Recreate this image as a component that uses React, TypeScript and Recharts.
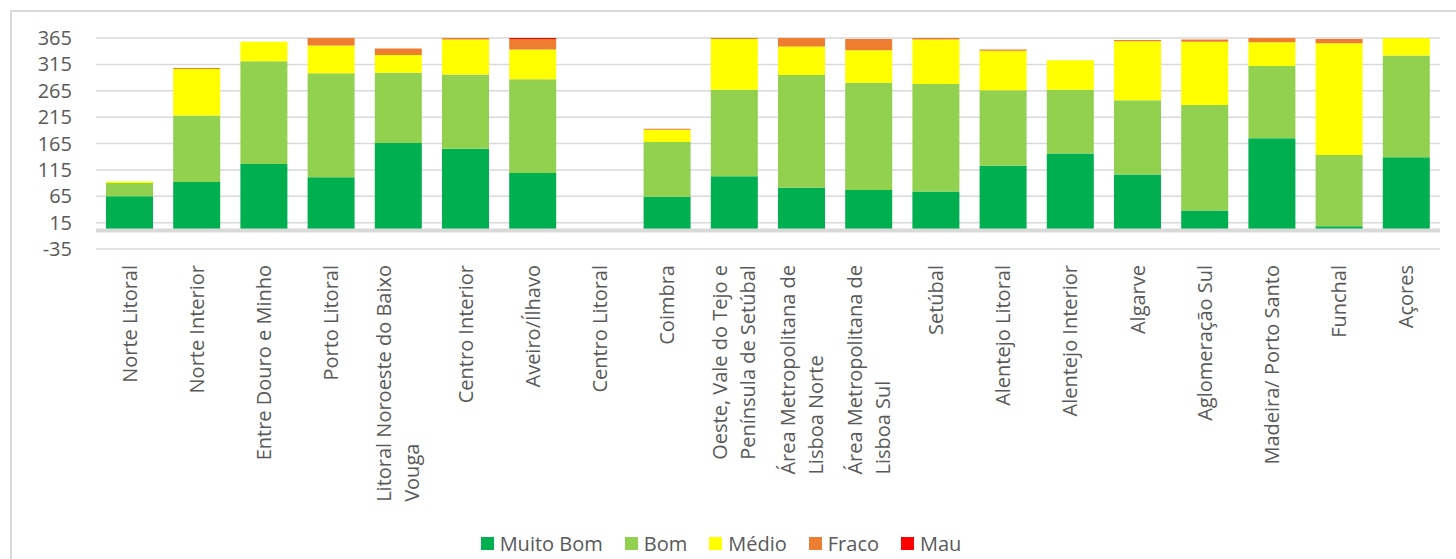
import { BarChart, Bar, XAxis, YAxis, CartesianGrid, Legend, ReferenceLine } from "recharts";

// Regions (line breaks mark where a long label wraps)
const REGIONS = [
  "Norte Litoral",
  "Norte Interior",
  "Entre Douro e Minho",
  "Porto Litoral",
  "Litoral Noroeste do Baixo\nVouga",
  "Centro Interior",
  "Aveiro/Ílhavo",
  "Centro Litoral",
  "Coimbra",
  "Oeste, Vale do Tejo e\nPenínsula de Setúbal",
  "Área Metropolitana de\nLisboa Norte",
  "Área Metropolitana de\nLisboa Sul",
  "Setúbal",
  "Alentejo Litoral",
  "Alentejo Interior",
  "Algarve",
  "Aglomeração Sul",
  "Madeira/ Porto Santo",
  "Funchal",
  "Açores",
];

// Number of days per air quality class
const MUITO_BOM = [65, 92, 126, 101, 166, 155, 109, 0, 64, 103, 81, 77, 74, 123, 146, 106, 38, 175, 8, 139];
const BOM = [25, 126, 195, 197, 133, 141, 178, 0, 104, 164, 214, 203, 204, 143, 121, 141, 200, 137, 135, 193];
const MEDIO = [3, 88, 37, 53, 34, 66, 56, 0, 23, 96, 54, 62, 84, 75, 56, 112, 120, 45, 212, 33];
const FRACO = [0, 2, 0, 14, 12, 3, 20, 0, 2, 2, 16, 21, 3, 2, 0, 2, 4, 8, 8, 0];
const MAU = [0, 0, 0, 0, 0, 0, 2, 0, 0, 0, 0, 0, 0, 0, 0, 0, 0, 0, 0, 0];

const Y_TICKS = [-35, 15, 65, 115, 165, 215, 265, 315, 365];

const SERIES = [
  { key: "muitoBom", name: "Muito Bom", color: "#00b050" },
  { key: "bom", name: "Bom", color: "#92d050" },
  { key: "medio", name: "Médio", color: "#ffff00" },
  { key: "fraco", name: "Fraco", color: "#ed7d31" },
  { key: "mau", name: "Mau", color: "#ff0000" },
];

const rows = REGIONS.map((region, i) => ({
  region,
  muitoBom: MUITO_BOM[i],
  bom: BOM[i],
  medio: MEDIO[i],
  fraco: FRACO[i],
  mau: MAU[i],
}));

const FONT_FAMILY = '"Open Sans", sans-serif';
const TEXT = "#595959";
const GRID = "#d9d9d9";
const LINE_GAP = 28;

let measureCtx: CanvasRenderingContext2D | null = null;
function textWidth(s: string) {
  if (!measureCtx) measureCtx = document.createElement("canvas").getContext("2d");
  if (!measureCtx) return s.length * 10;
  measureCtx.font = `20px ${FONT_FAMILY}`;
  return measureCtx.measureText(s).width;
}

// Vertical category label; wrapped lines share a common bottom edge
function RegionTick({ x, y, payload }: any) {
  const lines = String(payload.value).split("\n");
  const longest = Math.max(...lines.map(textWidth));
  const base = y + longest;
  return (
    <g>
      {lines.map((line, i) => {
        const lx = x + (i - (lines.length - 1) / 2) * LINE_GAP;
        return (
          <text
            key={i}
            x={lx}
            y={base}
            dy="0.35em"
            transform={`rotate(-90, ${lx}, ${base})`}
            textAnchor="start"
            fontSize={20}
            fontFamily={FONT_FAMILY}
            fill={TEXT}
          >
            {line}
          </text>
        );
      })}
    </g>
  );
}

// Legend keeps the series order instead of sorting by name
function LegendRow({ payload }: any) {
  const items = [...(payload || [])].sort(
    (a: any, b: any) =>
      SERIES.findIndex((s) => s.name === a.value) - SERIES.findIndex((s) => s.name === b.value)
  );
  return (
    <div style={{ display: "flex", justifyContent: "center", gap: 22 }}>
      {items.map((p: any) => (
        <div key={p.value} style={{ display: "flex", alignItems: "center" }}>
          <span style={{ width: 13, height: 13, background: p.color, marginRight: 6, display: "inline-block" }} />
          <span style={{ fontSize: 20, lineHeight: "27px", color: TEXT, fontFamily: FONT_FAMILY }}>{p.value}</span>
        </div>
      ))}
    </div>
  );
}

export default function App() {
  return (
    <div
      style={{
        position: "absolute",
        left: 0,
        top: 0,
        width: 1456,
        height: 559,
        overflow: "hidden",
        background: "#fff",
        fontFamily: FONT_FAMILY,
      }}
    >
      <div
        style={{
          position: "absolute",
          left: 10,
          top: 10,
          width: 1470,
          height: 600,
          border: `2px solid ${GRID}`,
          boxSizing: "border-box",
        }}
      />
      <div style={{ position: "absolute", left: 0, top: 0 }}>
        <BarChart
          width={1456}
          height={559}
          data={rows}
          margin={{ top: 38, right: 16, bottom: 0, left: 0 }}
          barSize={47}
        >
          <CartesianGrid horizontal vertical={false} stroke={GRID} strokeWidth={1.5} />
          <XAxis
            dataKey="region"
            height={310}
            interval={0}
            axisLine={false}
            tickLine={false}
            tickSize={0}
            tickMargin={16}
            tick={<RegionTick />}
          />
          <YAxis
            width={96}
            domain={[-35, 365]}
            ticks={Y_TICKS}
            interval={0}
            axisLine={false}
            tickLine={false}
            tickSize={0}
            tickMargin={24}
            tick={{ fontSize: 20, fill: TEXT, fontFamily: FONT_FAMILY }}
          />
          {SERIES.map((s) => (
            <Bar
              key={s.key}
              dataKey={s.key}
              name={s.name}
              stackId="q"
              fill={s.color}
              isAnimationActive={false}
            />
          ))}
          <ReferenceLine y={0} stroke={GRID} strokeWidth={4} />
          <Legend
            layout="horizontal"
            verticalAlign="middle"
            align="center"
            wrapperStyle={{ top: 530, left: 0, width: 1442 }}
            content={<LegendRow />}
          />
        </BarChart>
      </div>
    </div>
  );
}
